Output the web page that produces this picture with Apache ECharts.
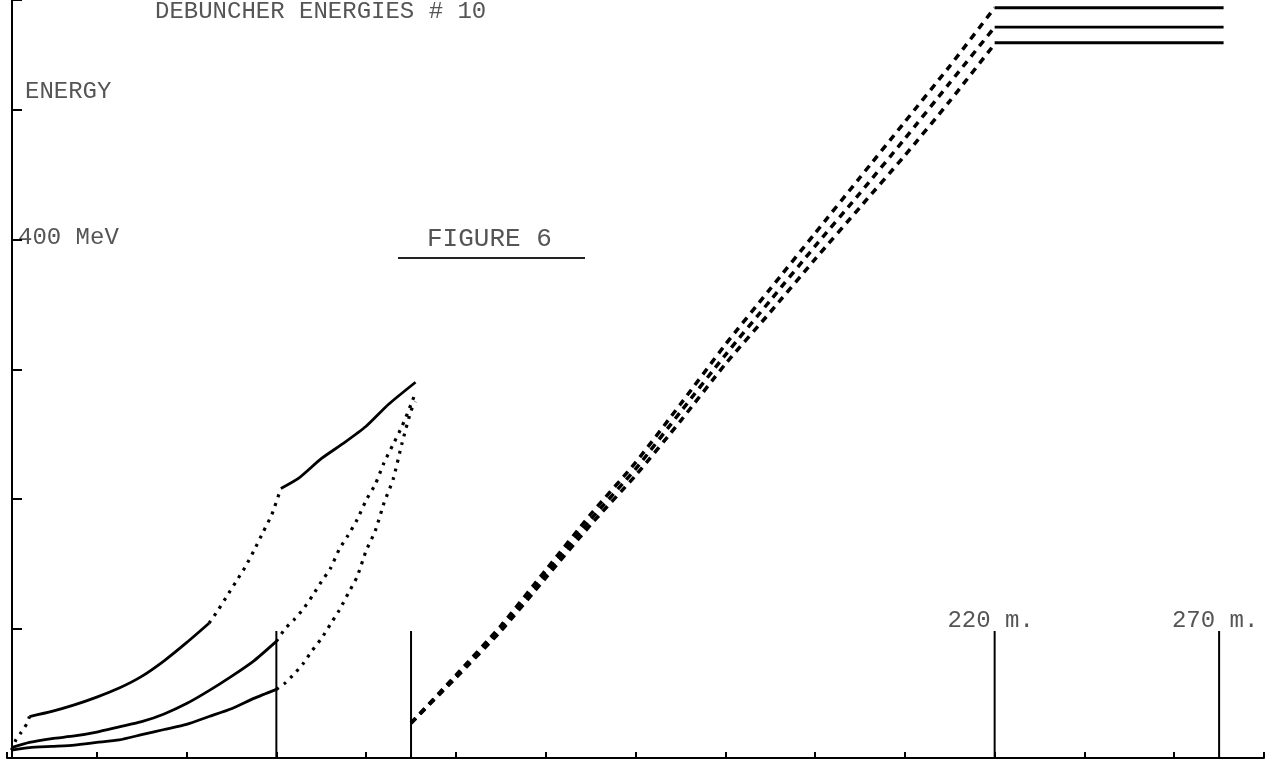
<!DOCTYPE html>
<html><head><meta charset="utf-8">
<script src="https://cdn.jsdelivr.net/npm/echarts@6/dist/echarts.min.js"></script>
<style>html,body{margin:0;padding:0;background:#fff}#c{width:1266px;height:760px}</style>
</head><body><div id="c"></div>
<script>
// ---- texts ----
const titleText = 'DEBUNCHER ENERGIES # 10';
const yName = 'ENERGY';
const yUnitLabel = '400 MeV';
const figureLabel = 'FIGURE 6';

// ---- section 1 (0-91 m): three particle energies [m, MeV] ----
const curveA_start = [[1,6],[2,14],[3,19],[4.5,27],[5,32]];
const curveA_low   = [[5,32],[10,36],[15,41],[20,47],[25,54],[30,63],[35,75],[40,89],[45,104]];
const curveA_ramp  = [[45,104],[47,114],[49,125],[51,136],[53,147],[55,160],[57,174],[59,188],[61,208]];
const curveA_high  = [[61,208],[65,216],[70,231],[75,243],[80,256],[85,273],[91,290]];

const curveB_low   = [[1,8],[5,12],[10,15],[15,17],[20,20],[25,24],[30,28],[35,34],[40,42],[45,52],[50,63],[55,75],[60,90]];
const curveB_ramp  = [[60,90],[62,100],[64,107],[66,115],[68,125],[70,136],[72,146],[74,161],[76,172],[78,184],[80,199],[82,211],[84,228],[86,242],[88,256],[90,273],[91,282]];

const curveC_low   = [[1,6],[5,8],[10,9],[15,10],[20,12],[25,14],[30,18],[35,22],[40,26],[45,32],[50,38],[55,46],[60,53]];
const curveC_ramp  = [[60,53],[62,58],[64,65],[66,73],[68,83],[70,92],[72,103],[74,114],[76,127],[78,140],[80,160],[82,175],[84,197],[86,215],[88,243],[90,268],[91,275]];

// ---- section 2 (90-220 m): debuncher ramp, then flat to 270 m ----
const debPos = [90,100,110,120,130,140,150,160,170,180,190,200,210,220];
const debE1  = [27,64,102,145,188,228,273,319,362,405,448,491,534,579];
const debE2  = [27,63,100,142,184,223,267,311,353,395,436,478,521,564];
const debE3  = [27,62,98,139,180,218,260,304,344,385,425,465,507,551];
const flatPos = [220,271];
const flatE  = [579,564,552];

// ---- station markers ----
const stationPos = [60,90,220,270];
const stationTop = 98;
const stationLabels = ['','','220 m.','270 m.'];

const FONT = '24px "Liberation Mono", "DejaVu Sans Mono", monospace';
const TXT = '#555';

const solid = {color:'#000', width:2.8};
const dotted = {color:'#000', width:3.2, type:[3,6], cap:'butt'};
const dashed = {color:'#000', width:3.5, type:[7,6], cap:'butt'};

function seg(data, ls){
  return {type:'line', data:data, showSymbol:false, symbol:'none', lineStyle:ls, smooth:0.2, clip:false, silent:true};
}
function pairs(xs, ys){ return xs.map((x,i)=>[x, ys[i]]); }

const series = [
  seg(curveA_start, dotted), seg(curveA_low, solid), seg(curveA_ramp, dotted), seg(curveA_high, solid),
  seg(curveB_low, solid), seg(curveB_ramp, dotted),
  seg(curveC_low, solid), seg(curveC_ramp, dotted),
  seg(pairs(debPos, debE1), dashed), seg(pairs(debPos, debE2), dashed), seg(pairs(debPos, debE3), dashed),
  seg(flatPos.map(x=>[x, flatE[0]]), solid),
  seg(flatPos.map(x=>[x, flatE[1]]), solid),
  seg(flatPos.map(x=>[x, flatE[2]]), solid),
  {
    type:'custom', clip:false, silent:true,
    data: stationPos.map(p=>[p, stationTop]),
    renderItem: function(params, api){
      const x = api.value(0);
      const top = api.coord([x, api.value(1)]);
      const bot = api.coord([x, 0]);
      const ch = [{type:'line', shape:{x1:top[0], y1:top[1], x2:bot[0], y2:bot[1]}, style:{stroke:'#000', lineWidth:2}}];
      const lab = stationLabels[params.dataIndex];
      if (lab) ch.push({type:'text', x: top[0]-4, y: top[1]-10, style:{text: lab, font: FONT, fill: TXT, align:'center', verticalAlign:'middle'}});
      return {type:'group', children: ch};
    }
  }
];

const chart = echarts.init(document.getElementById('c'), null, {renderer:'canvas'});
chart.setOption({
  animation:false,
  backgroundColor:'#fff',
  grid:{left:7, right:2, top:0, bottom:2, containLabel:false},
  xAxis:{type:'value', min:0, max:280, interval:20,
    axisLine:{show:true, lineStyle:{color:'#000', width:2}},
    axisTick:{show:true, inside:true, length:6, lineStyle:{color:'#000', width:2}},
    axisLabel:{show:false}, splitLine:{show:false}},
  yAxis:{type:'value', min:0, max:585, interval:100, offset:-5,
    axisLine:{show:true, lineStyle:{color:'#000', width:2}},
    axisTick:{show:true, inside:true, length:10, lineStyle:{color:'#000', width:2}},
    axisLabel:{show:false}, splitLine:{show:false}},
  graphic:[
    {type:'text', left:155, top:0, style:{text:titleText, font:FONT, fill:TXT}},
    {type:'text', left:25, top:80, style:{text:yName, font:FONT, fill:TXT}},
    {type:'text', left:18, top:226, style:{text:yUnitLabel, font:FONT, fill:TXT}},
    {type:'text', left:427, top:226, style:{text:figureLabel, font:'26px "Liberation Mono", monospace', fill:TXT}},
    {type:'line', shape:{x1:398, y1:258, x2:585, y2:258}, style:{stroke:'#222', lineWidth:2}}
  ],
  series: series
});
</script>
</body></html>
